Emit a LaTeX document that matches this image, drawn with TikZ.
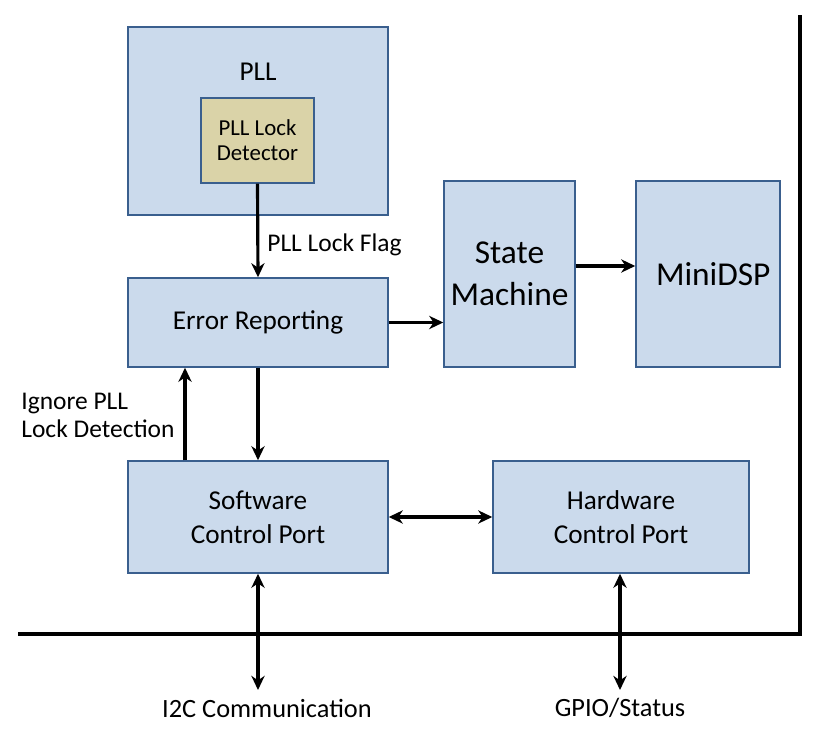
\documentclass[tikz,border=0pt]{standalone}
\usepackage{fontspec}
\setmainfont{Carlito}
\usepackage{tikz}
\usetikzlibrary{positioning,calc,arrows.meta}
\definecolor{blkfill}{HTML}{CBDAEC}
\definecolor{blkline}{HTML}{3A5F8E}
\definecolor{detfill}{HTML}{DAD3A8}

\begin{document}
\begin{tikzpicture}[x=0.02cm, y=-0.02cm,
  blk/.style={rectangle, draw=blkline, fill=blkfill, line width=0.85pt, inner sep=0pt, align=center,
    font=\fontsize{15.5}{19.5}\selectfont},
  detblk/.style={blk, fill=detfill, font=\fontsize{13}{14.2}\selectfont},
  bigblk/.style={blk, font=\fontsize{19}{23.8}\selectfont},
  txt/.style={inner sep=0pt, align=left, font=\fontsize{14.5}{16}\selectfont},
  sig/.style={line width=1.8pt, -{Stealth[length=8pt, width=7.5pt, inset=2.5pt]}},
  bisig/.style={sig, {Stealth[length=8pt, width=7.5pt, inset=2.5pt]}-{Stealth[length=8pt, width=7.5pt, inset=2.5pt]}},
  frame/.style={line width=2.4pt},
]
\useasboundingbox (0,0) rectangle (829,739);

% blocks
\node[blk, minimum width=5.2cm, minimum height=3.76cm] (pll) at (258,121) {};
\node[blk, draw=none, fill=none] (plltxt) at (258,72) {PLL};
\node[detblk, minimum width=2.26cm, minimum height=1.7cm] (det) at (257.5,140.5) {PLL Lock\\Detector};
\node[blk, minimum width=5.2cm, minimum height=1.78cm] (err) at (258,322.5) {Error Reporting};
\node[bigblk, minimum width=2.62cm, minimum height=3.72cm] (sm) at (509.5,274) {State\\Machine};
\node[bigblk, minimum width=2.88cm, minimum height=3.72cm] (dsp) at (708,274) {\hspace{6pt}MiniDSP};
\node[blk, minimum width=5.2cm, minimum height=2.24cm] (sw) at (258,517) {Software\\Control Port};
\node[blk, minimum width=5.12cm, minimum height=2.24cm] (hw) at (621,517) {Hardware\\Control Port};

% device boundary
\coordinate (bl) at (18,634);
\coordinate (br) at (800,634);
\coordinate (tr) at (800,15);
\draw[frame] (bl) -- (br) -- (tr);

% external pins
\node[txt, font=\fontsize{15}{16}\selectfont] (i2c) at (267,708) {I2C Communication};
\node[txt, font=\fontsize{15}{16}\selectfont] (gpio) at (620,708) {GPIO/Status};
\coordinate (i2cend) at (258,690);
\coordinate (gpioend) at (620,690);

% signals
\draw[sig] (det.south) -- (err.north);
\node[txt, anchor=west] (flag) at (267,245) {PLL Lock Flag};
\draw[sig] (err.east) -- (sm.west |- err.east);
\draw[sig] (sm.east |- 0,266) -- (dsp.west |- 0,266);
\draw[sig] ([xshift=-1.46cm]sw.north) -- ([xshift=-1.46cm]err.south);
\node[txt, anchor=west] (ign) at (21,415) {Ignore PLL\\Lock Detection};
\draw[sig] (err.south) -- (sw.north);
\draw[bisig] (sw.east) -- (hw.west);
\draw[bisig] (sw.south) -- (i2cend);
\draw[bisig] ([xshift=-0.02cm]hw.south) -- (gpioend);
\end{tikzpicture}
\end{document}
